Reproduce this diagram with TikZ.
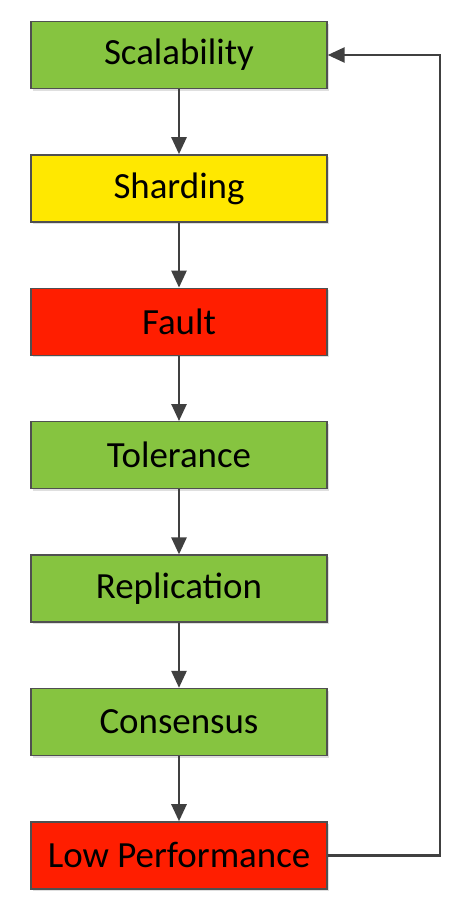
\documentclass[tikz,border=0pt]{standalone}
\usepackage{fontspec}
\setmainfont{Carlito}
\usetikzlibrary{arrows.meta,positioning,shadows}
\definecolor{leafgreen}{HTML}{86C440}
\definecolor{signyellow}{HTML}{FFE800}
\definecolor{alarmred}{HTML}{FF1E00}
\definecolor{edgegray}{HTML}{505050}
\definecolor{linkgray}{HTML}{404040}
\tikzset{
  stagebox/.style={
    draw=edgegray,
    line width=0.8pt,
    minimum width=5.92cm,
    minimum height=1.34cm,
    inner sep=0pt,
    align=center,
    font=\fontsize{21}{24}\selectfont,
    drop shadow={shadow xshift=1.2pt,shadow yshift=-1.2pt,opacity=0.25}
  },
  okbox/.style={stagebox,fill=leafgreen},
  warnbox/.style={stagebox,fill=signyellow},
  badbox/.style={stagebox,fill=alarmred},
  flowarrow/.style={-{Triangle[length=3.4mm,width=3mm]},line width=1.5pt,draw=linkgray}
}

\begin{document}
\begin{tikzpicture}[node distance=1.30cm]
\useasboundingbox (0,0) rectangle (9.16,-18.1);
\node[okbox] (scal) at (3.58,-1.1) {Scalability};
\node[warnbox,below=of scal] (shard) {Sharding};
\node[badbox,below=of shard] (fault) {Fault};
\node[okbox,below=of fault] (toler) {Tolerance};
\node[okbox,below=of toler] (repl) {Replication};
\node[okbox,below=of repl] (cons) {Consensus};
\node[badbox,below=of cons] (lowperf) {Low Performance};
\coordinate (turn) at (8.8,0);
\draw[flowarrow] (scal) -- (shard);
\draw[flowarrow] (shard) -- (fault);
\draw[flowarrow] (fault) -- (toler);
\draw[flowarrow] (toler) -- (repl);
\draw[flowarrow] (repl) -- (cons);
\draw[flowarrow] (cons) -- (lowperf);
\draw[flowarrow] (lowperf.east) -- (lowperf.east -| turn) |- (scal.east);
\end{tikzpicture}
\end{document}
